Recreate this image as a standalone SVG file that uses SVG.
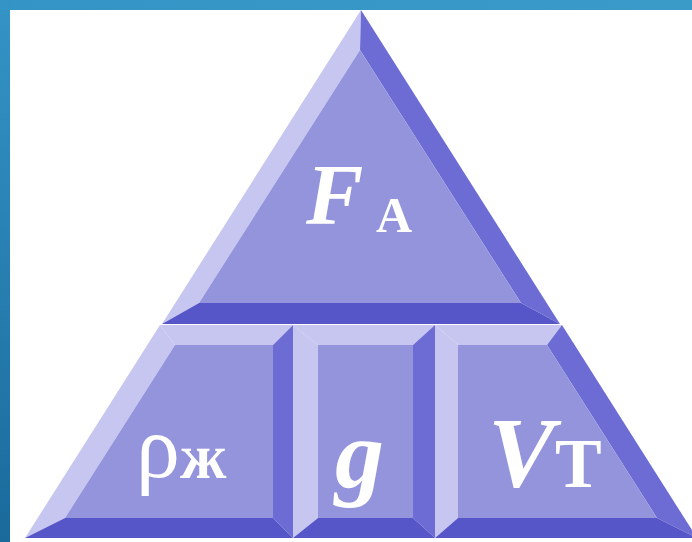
<svg xmlns="http://www.w3.org/2000/svg" width="692" height="542" viewBox="0 0 692 542">
<defs>
<linearGradient id="lbar" x1="0" y1="0" x2="0" y2="1">
<stop offset="0" stop-color="#3494c5"/>
<stop offset="1" stop-color="#1a6a9c"/>
</linearGradient>
<linearGradient id="tbar" x1="0" y1="0" x2="1" y2="0">
<stop offset="0" stop-color="#3494c5"/>
<stop offset="1" stop-color="#3a9bc9"/>
</linearGradient>
<style>
.lt{fill:#c6c6f0}
.dk{fill:#6c6cd4}
.bt{fill:#5656c8}
.fc{fill:#9494dc}
.t{fill:#ffffff;font-family:"Liberation Serif","Times New Roman",serif}
</style>
</defs>
<rect x="0" y="0" width="692" height="542" fill="#ffffff"/>
<rect x="0" y="0" width="692" height="10" fill="url(#tbar)"/>
<rect x="0" y="0" width="10" height="542" fill="url(#lbar)"/>
<g id="top">
<polygon class="lt" points="361,10 360,50 199,303 162,324"/>
<polygon class="dk" points="361,10 560,324 521,303 360,50"/>
<polygon class="bt" points="162,324 199,303 521,303 560,324"/>
<polygon class="fc" points="360,50 521,303 199,303"/>
<text class="t" x="306" y="224" font-size="86" font-weight="bold" font-style="italic">F</text>
<text class="t" x="376" y="232" font-size="50" font-weight="bold">А</text>
</g>
<g id="box1">
<polygon class="lt" points="160,325 293,325 273,345 175,345"/>
<polygon class="lt" points="160,325 175,345 65,518 25,538"/>
<polygon class="dk" points="293,325 293,538 273,518 273,345"/>
<polygon class="bt" points="25,538 65,518 273,518 293,538"/>
<polygon class="fc" points="175,345 273,345 273,518 65,518"/>
<text class="t" x="136" y="477" font-size="88">ρ</text>
<text class="t" x="180" y="478" font-size="64" font-weight="bold">ж</text>
</g>
<g id="box2">
<polygon class="lt" points="293,325 435,325 413,345 318,345"/>
<polygon class="lt" points="293,325 318,345 318,518 293,538"/>
<polygon class="dk" points="435,325 435,538 413,518 413,345"/>
<polygon class="bt" points="293,538 318,518 413,518 435,538"/>
<rect class="fc" x="318" y="345" width="95" height="173"/>
<text class="t" x="335" y="487" font-size="98" font-weight="bold" font-style="italic">g</text>
</g>
<g id="box3">
<polygon class="lt" points="435,325 562,325 547,345 458,345"/>
<polygon class="lt" points="435,325 458,345 458,518 435,538"/>
<polygon class="dk" points="562,325 697,538 657,518 547,345"/>
<polygon class="bt" points="435,538 458,518 657,518 697,538"/>
<polygon class="fc" points="458,345 547,345 657,518 458,518"/>
<text class="t" x="488" y="486" font-size="100" font-weight="bold" font-style="italic">V</text>
<text class="t" x="555" y="487" font-size="70" font-weight="bold">Т</text>
</g>
<g id="connectors"></g>
</svg>
